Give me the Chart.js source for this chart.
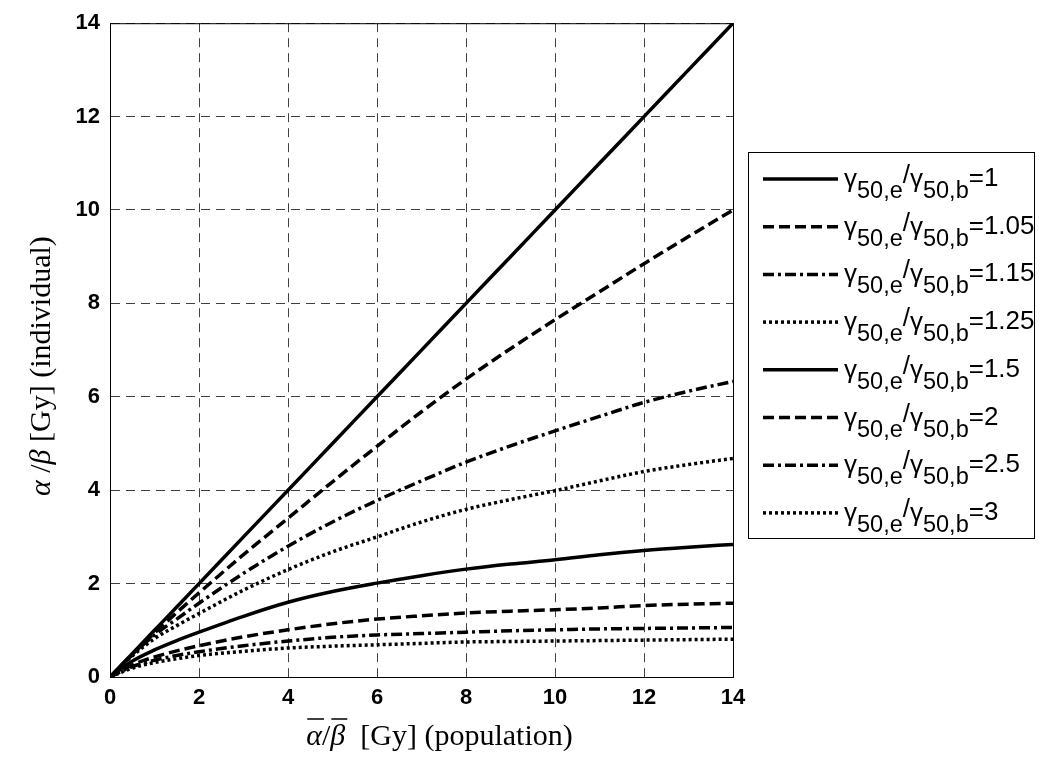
<!DOCTYPE html>
<html>
<head>
<meta charset="utf-8">
<script src="https://cdn.jsdelivr.net/npm/chart.js@4.4.0/dist/chart.umd.min.js"></script>
<style>
  html, body { margin: 0; padding: 0; background: #fff; }
  #wrap { width: 1039px; height: 758px; position: relative; }
</style>
</head>
<body>
<div id="wrap"><canvas id="ratioChart" width="1039" height="758"></canvas></div>
<script>
// population alpha/beta (x axis)
const xPop = [0, 0.5, 1, 1.5, 2, 3, 4, 5, 6, 7, 8, 9, 10, 11, 12, 13, 14];

// individual alpha/beta for each gamma50 ratio
const r100 = [0, 0.5, 1, 1.5, 2, 3, 4, 5, 6, 7, 8, 9, 10, 11, 12, 13, 14];
const r105 = [0, 0.48, 0.94, 1.38, 1.8, 2.62, 3.4, 4.18, 4.94, 5.68, 6.38, 7.03, 7.65, 8.25, 8.85, 9.43, 10.0];
const r115 = [0, 0.47, 0.9, 1.24, 1.58, 2.22, 2.8, 3.32, 3.78, 4.2, 4.6, 4.95, 5.27, 5.58, 5.88, 6.12, 6.33];
const r125 = [0, 0.45, 0.82, 1.1, 1.36, 1.86, 2.3, 2.68, 3.0, 3.32, 3.59, 3.8, 3.99, 4.2, 4.4, 4.55, 4.68];
const r150 = [0, 0.34, 0.58, 0.78, 0.96, 1.3, 1.6, 1.83, 2.01, 2.17, 2.31, 2.42, 2.51, 2.62, 2.71, 2.78, 2.84];
const r200 = [0, 0.26, 0.43, 0.56, 0.67, 0.86, 1.01, 1.14, 1.24, 1.31, 1.37, 1.41, 1.44, 1.48, 1.53, 1.56, 1.58];
const r250 = [0, 0.22, 0.36, 0.46, 0.54, 0.67, 0.77, 0.85, 0.9, 0.93, 0.96, 0.99, 1.01, 1.03, 1.04, 1.05, 1.06];
const r300 = [0, 0.19, 0.31, 0.39, 0.46, 0.55, 0.62, 0.66, 0.69, 0.72, 0.75, 0.76, 0.77, 0.78, 0.79, 0.8, 0.81];

const ratioLabels = ['1', '1.05', '1.15', '1.25', '1.5', '2', '2.5', '3'];
const ratioSeries = [r100, r105, r115, r125, r150, r200, r250, r300];

const solid = [];
const dashed = [11, 5];
const dashDot = [11, 4, 3, 4];
const dotted = [3, 3];
const styles = [solid, dashed, dashDot, dotted, solid, dashed, dashDot, dotted];

const datasets = ratioSeries.map((ys, i) => ({
    label: ratioLabels[i],
    data: xPop.map((x, j) => ({ x: x, y: ys[j] })),
    borderColor: '#000',
    borderWidth: 3.5,
    borderDash: styles[i],
    pointRadius: 0,
    cubicInterpolationMode: 'monotone',
    fill: false
}));

// axis titles + legend box, drawn on the canvas
const extras = {
    id: 'extras',
    afterDraw(chart) {
        const c = chart.ctx;
        const area = chart.chartArea;
        c.save();
        c.fillStyle = '#000';
        c.strokeStyle = '#000';

        // frame round the plot
        c.lineWidth = 1;
        c.setLineDash([]);
        c.strokeRect(area.left + 0.5, area.top + 0.5, area.right - area.left, area.bottom - area.top);

        // y title
        c.save();
        c.translate(50, (area.top + area.bottom) / 2 + 16);
        c.rotate(-Math.PI / 2);
        c.textBaseline = 'alphabetic';
        const yParts = [
            ['italic 30px "Liberation Serif"', 'α'],
            ['30px "Liberation Serif"', ' /'],
            ['italic 30px "Liberation Serif"', 'β'],
            ['30px "Liberation Serif"', ' [Gy] (individual)']
        ];
        let w = 0;
        yParts.forEach(p => { c.font = p[0]; w += c.measureText(p[1]).width; });
        let px = -w / 2;
        yParts.forEach(p => { c.font = p[0]; c.fillText(p[1], px, 0); px += c.measureText(p[1]).width; });
        c.restore();

        // x title with overlines
        const xParts = [
            ['italic 30px "Liberation Serif"', 'α', true],
            ['30px "Liberation Serif"', '/', false],
            ['italic 30px "Liberation Serif"', 'β', true],
            ['30px "Liberation Serif"', '  [Gy] (population)', false]
        ];
        w = 0;
        xParts.forEach(p => { c.font = p[0]; w += c.measureText(p[1]).width; });
        px = (area.left + area.right) / 2 - w / 2 + 18;
        const base = 745;
        xParts.forEach(p => {
            c.font = p[0];
            const tw = c.measureText(p[1]).width;
            c.fillText(p[1], px, base);
            if (p[2]) {
                c.lineWidth = 1.5;
                c.beginPath();
                c.moveTo(px + 1, base - 26);
                c.lineTo(px + tw + 2, base - 26);
                c.stroke();
            }
            px += tw;
        });

        // legend
        const lx = 748, ly = 152, lw = 286, lh = 386;
        c.fillStyle = '#fff';
        c.fillRect(lx, ly, lw, lh);
        c.lineWidth = 1;
        c.setLineDash([]);
        c.strokeRect(lx + 0.5, ly + 0.5, lw, lh);
        const rowGap = 47.7;
        ratioLabels.forEach((lab, i) => {
            const yy = 179 + i * rowGap;
            c.strokeStyle = '#000';
            c.lineWidth = 3.5;
            c.setLineDash(styles[i]);
            c.beginPath();
            c.moveTo(763, yy);
            c.lineTo(838, yy);
            c.stroke();
            c.setLineDash([]);
            c.fillStyle = '#000';
            let tx = 844;
            const segs = [
                ['26px "Liberation Sans"', 'γ', 8],
                ['23.5px "Liberation Sans"', '50,e', 19],
                ['26px "Liberation Sans"', '/', 4],
                ['26px "Liberation Sans"', 'γ', 8],
                ['23.5px "Liberation Sans"', '50,b', 19],
                ['26px "Liberation Sans"', '=' + lab, 7]
            ];
            segs.forEach(s => {
                c.font = s[0];
                c.fillText(s[1], tx, yy + s[2]);
                tx += c.measureText(s[1]).width;
            });
        });
        c.restore();
    }
};

const ctx = document.getElementById('ratioChart').getContext('2d');
const ratioChart = new Chart(ctx, {
    type: 'line',
    data: { datasets: datasets },
    options: {
        responsive: false,
        animation: false,
        layout: {
            padding: { left: 0, right: 306, top: 16, bottom: 0 }
        },
        plugins: {
            legend: { display: false },
            tooltip: { enabled: false }
        },
        scales: {
            x: {
                type: 'linear',
                min: 0,
                max: 14,
                afterFit: s => { s.height = 81; },
                ticks: {
                    stepSize: 2,
                    color: '#000',
                    padding: 8,
                    maxRotation: 0,
                    font: { family: 'Liberation Sans', size: 22, weight: 'bold' }
                },
                grid: {
                    color: 'rgba(0,0,0,0.75)',
                    lineWidth: 1,
                    drawTicks: false
                },
                border: { display: true, color: '#000', dash: [9, 6] }
            },
            y: {
                min: 0,
                max: 14,
                afterFit: s => { s.width = 110; },
                ticks: {
                    stepSize: 2,
                    color: '#000',
                    padding: 10,
                    font: { family: 'Liberation Sans', size: 22, weight: 'bold' }
                },
                grid: {
                    color: 'rgba(0,0,0,0.75)',
                    lineWidth: 1,
                    drawTicks: false
                },
                border: { display: true, color: '#000', dash: [9, 6] }
            }
        }
    },
    plugins: [extras]
});
</script>
</body>
</html>
